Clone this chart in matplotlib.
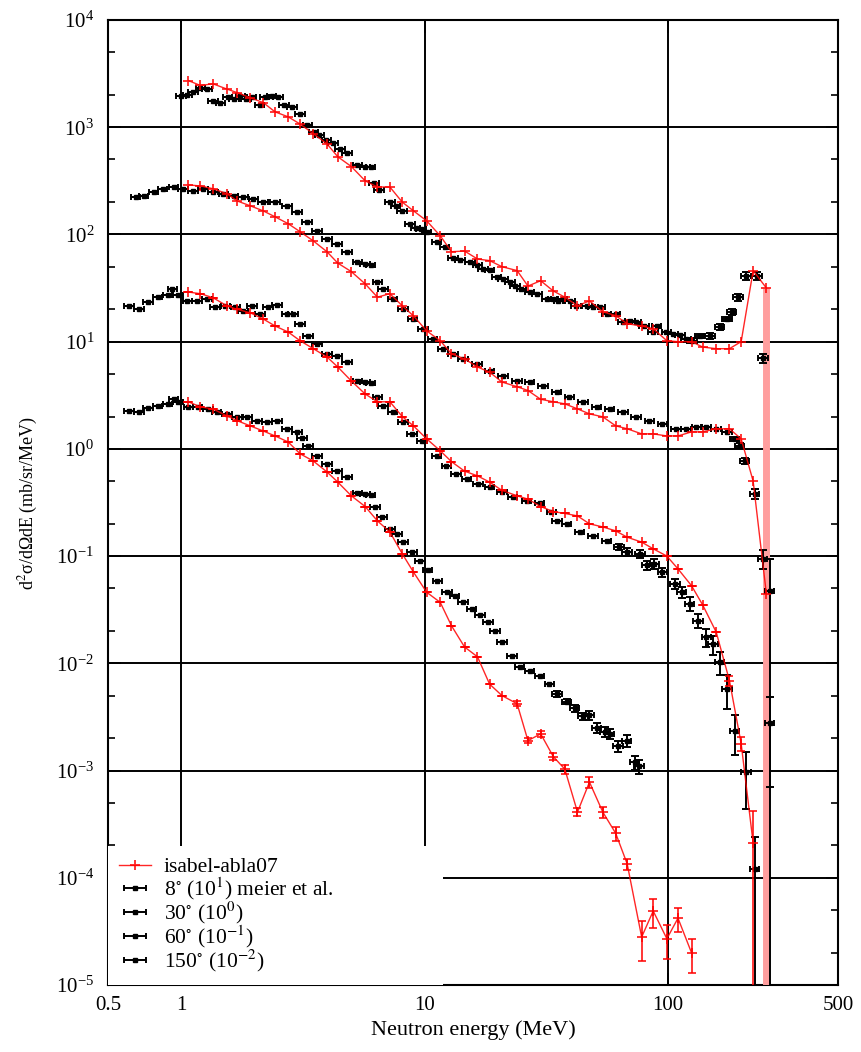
import numpy as np
import matplotlib
matplotlib.use("Agg")
import matplotlib.pyplot as plt
from matplotlib import ticker

plt.rcParams['font.family'] = ['Liberation Serif', 'DejaVu Serif']
plt.rcParams['mathtext.fontset'] = 'stix'

# Model energies (isabel-abla07), common binning
E_model = [1.07, 1.2, 1.35, 1.54, 1.70, 1.92, 2.17, 2.43, 2.75, 3.08, 3.49, 3.97, 4.4, 5.0,
           5.7, 6.4, 7.2, 8.1, 9.0, 10.2, 11.6, 12.9, 14.6, 16.5, 18.5, 20.8, 24, 26.6, 30,
           33.8, 37.7, 42.5, 47.6, 54, 61, 68, 78, 87, 99, 110, 125, 139, 158, 179, 200, 224, 254]

# plotted (already scaled) model values
model_8 = [2720, 2450, 2540, 2270, 2100, 1880, 1700, 1390, 1250, 1070, 870, 700, 530, 430,
           316, 277, 277, 200, 166, 134, 97, 69, 70, 59, 57, 50, 46, 33, 37,
           29.7, 26, 21.6, 24, 19, 17.5, 14.7, 14, 13.2, 10.2, 10, 10, 8.9, 8.6, 8.6, 10, 46, 31.6]
model_30 = [290, 283, 267, 240, 205, 185, 166, 146, 126, 106, 87, 69, 54, 45,
            34.6, 26, 28, 21.6, 17.4, 12.6, 10.2, 7.7, 6.9, 5.8, 5.2, 4.2, 3.8, 3.5, 2.9,
            2.75, 2.63, 2.36, 2.12, 1.99, 1.64, 1.54, 1.38, 1.38, 1.32, 1.32, 1.44, 1.44, 1.54, 1.54,
            1.24, 0.5, 0.044]
model_60 = [29, 28, 25.7, 21.6, 20, 18.6, 16.3, 14, 12.3, 10.2, 8.6, 7.2, 5.8, 4.3,
            3.25, 2.75, 2.75, 2.0, 1.64, 1.24, 0.96, 0.76, 0.62, 0.56, 0.49, 0.41, 0.365, 0.34, 0.29,
            0.26, 0.25, 0.237, 0.20, 0.187, 0.172, 0.15, 0.135, 0.117, 0.1, 0.076, 0.053, 0.035,
            0.0195, 0.0069, 0.00178, 0.00021]
model_150 = [2.75, 2.46, 2.36, 2.03, 1.83, 1.64, 1.47, 1.32, 1.16, 0.9, 0.77, 0.61, 0.49, 0.365,
             0.29, 0.213, 0.168, 0.105, 0.071, 0.046, 0.037, 0.0224, 0.0142, 0.0115, 0.0064, 0.005,
             0.0042, 0.0019, 0.0022, 0.00135, 0.00103, 0.00041, 0.00078, 0.00041, 0.00026, 0.000135,
             0.000028, 0.000049, 0.000027, 0.000042, 0.000020]
# relative statistical errors of the model, tail only
model_60_err = [0.1, 0.15, 0.9999]
model_150_err = [0.05, 0.05, 0.06, 0.08, 0.1, 0.09, 0.12, 0.12, 0.15, 0.12, 0.4, 0.3, 0.35, 0.25, 0.35]

# Meier et al. data (plotted, already scaled)
E_8 = [1.0, 1.06, 1.12, 1.2, 1.28, 1.35, 1.45, 1.55, 1.65, 1.75, 1.85, 1.95, 2.1, 2.2, 2.35, 2.5,
       2.65, 2.85, 3.08, 3.3, 3.5, 3.7, 3.95, 4.2, 4.5, 4.8, 5.3, 5.7, 6.0, 6.2, 6.5, 7.2, 7.6, 8.1,
       8.7, 9.2, 9.7, 10.2, 11.2, 12.1, 13.1, 14.0, 15.4, 16.5, 17.4, 18.5, 19.8, 21, 22.5, 23.5,
       25, 27, 29, 31.7, 33.6, 35.5, 37, 39.6, 42, 46.5, 49.3, 52.6, 56, 61, 65.5, 70, 74, 80, 87,
       90, 98.6, 105, 112, 119, 126, 135, 149, 163, 175, 183, 194, 210, 232, 246]
exp_8 = [1950, 2000, 2150, 2300, 2250, 1750, 1700, 1900, 1850, 1950, 1850, 1900, 1600, 1900, 1950,
         1900, 1600, 1550, 1330, 1050, 900, 850, 760, 720, 620, 580, 440, 430, 430, 300, 260, 200,
         185, 165, 125, 115, 112, 105, 85, 77, 60, 58, 55, 52, 48, 47, 40, 38, 36, 33, 31, 29, 28,
         25, 25, 24, 25, 24, 21.6, 21.5, 21, 21, 18.2, 18, 15.3, 15.5, 15.3, 14, 12.3, 14, 12.3,
         11.8, 11.5, 10.5, 10.2, 11.3, 11.3, 13.7, 16.3, 19, 26, 41, 41, 7]
exp_8_err = [0.05, 0.05, 0.06, 0.06, 0.05, 0.06, 0.08, 0.08, 0.08, 0.1]

E_30 = [0.65, 0.70, 0.77, 0.84, 0.93, 1.02, 1.12, 1.23, 1.35, 1.49, 1.64, 1.80, 1.98, 2.17, 2.43,
        2.72, 2.99, 3.29, 3.61, 3.97, 4.37, 4.80, 5.3, 5.7, 6.0, 6.4, 6.75, 7.4, 8.15, 8.95, 9.85,
        10.8, 11.9, 13.1, 14.4, 16.4, 18.5, 21, 24, 27, 30.7, 34.9, 39.4, 44.8, 51, 57.6, 65.5, 74,
        84, 95, 108, 119, 131, 144, 158, 175, 188, 197, 207, 227, 245, 262]
exp_30 = [224, 230, 250, 263, 278, 263, 255, 263, 250, 240, 230, 224, 215, 200, 200, 185, 163, 131,
          108, 91, 82, 69, 55, 53, 52, 36, 31, 25, 20, 16.3, 13.2, 10.6, 8.6, 7.7, 6.9, 6.2, 5.3,
          4.8, 4.3, 4.2, 3.9, 3.4, 3.05, 2.75, 2.46, 2.36, 2.2, 2.0, 1.83, 1.71, 1.54, 1.54, 1.6,
          1.6, 1.54, 1.44, 1.24, 1.07, 0.77, 0.38, 0.094, 0.047]
exp_30_err = [0.05, 0.05, 0.06, 0.1, 0.2, 0.9999]

E_60 = [0.61, 0.67, 0.73, 0.80, 0.88, 0.92, 0.97, 1.06, 1.16, 1.28, 1.38, 1.52, 1.67, 1.80, 1.96,
        2.11, 2.27, 2.48, 2.72, 2.88, 3.08, 3.33, 3.61, 3.97, 4.37, 4.80, 5.3, 5.7, 6.0, 6.4, 6.75,
        7.4, 8.15, 8.9, 9.75, 11.2, 12.3, 13.5, 14.9, 16.6, 18.5, 20.8, 23, 26.3, 29.7, 33.2, 35,
        38.4, 43.4, 49.2, 56, 63, 68, 77, 82, 88, 95, 107, 114, 123, 133, 144, 153, 163, 175, 188,
        210, 227, 262]
exp_60 = [21.6, 20, 23.5, 26, 27, 31, 27, 24, 24, 25, 21, 21.6, 21, 19.4, 21.6, 18.2, 21, 22, 18.2,
          18, 14.7, 11.3, 9.5, 7.7, 7.4, 6.5, 4.3, 4.2, 4.1, 3.05, 2.5, 2.2, 1.78, 1.38, 1.19, 0.86,
          0.69, 0.585, 0.525, 0.47, 0.44, 0.40, 0.355, 0.33, 0.31, 0.26, 0.213, 0.20, 0.168, 0.155,
          0.138, 0.122, 0.11, 0.105, 0.082, 0.085, 0.071, 0.055, 0.046, 0.036, 0.025, 0.0176,
          0.015, 0.0103, 0.0058, 0.00235, 0.00097, 0.00012, 0.0028]
exp_60_err = [0.06, 0.08, 0.08, 0.1, 0.1, 0.1, 0.1, 0.12, 0.15, 0.15, 0.2, 0.2, 0.25, 0.35, 0.4,
              0.55, 0.9999, 0.75]

E_150 = [0.61, 0.67, 0.73, 0.80, 0.88, 0.93, 0.97, 1.07, 1.17, 1.29, 1.40, 1.54, 1.70, 1.87, 2.05,
         2.25, 2.48, 2.72, 2.99, 3.14, 3.33, 3.61, 3.97, 4.37, 4.80, 5.3, 5.7, 6.0, 6.25, 6.7, 7.2,
         7.7, 8.15, 8.9, 9.6, 10.3, 11.3, 12.4, 13.3, 14.4, 15.6, 16.9, 18.2, 19.5, 20.8, 22.9,
         24.6, 27, 29.7, 32.6, 35, 38.4, 41.4, 44.8, 47.6, 51, 55, 57.6, 62.5, 67.6, 73, 76]
exp_150 = [2.26, 2.2, 2.4, 2.5, 2.6, 2.9, 2.75, 2.46, 2.46, 2.36, 2.2, 2.12, 2.0, 2.0, 1.83, 1.79,
           1.83, 1.54, 1.44, 1.27, 1.07, 0.86, 0.72, 0.62, 0.55, 0.39, 0.38, 0.37, 0.29, 0.23, 0.18,
           0.16, 0.135, 0.11, 0.09, 0.074, 0.059, 0.046, 0.042, 0.037, 0.032, 0.028, 0.0245, 0.020,
           0.0159, 0.0117, 0.0093, 0.0085, 0.0076, 0.0064, 0.0052, 0.0044, 0.0038, 0.0032, 0.0033,
           0.0025, 0.0023, 0.0022, 0.0017, 0.0019, 0.0012, 0.0011]
exp_150_err = [0.06, 0.06, 0.08, 0.08, 0.1, 0.1, 0.1, 0.1, 0.12, 0.12, 0.15, 0.15]

labels = ["isabel-abla07",
          r"8$^{\circ}$ (10$^{1}$) meier et al.",
          r"30$^{\circ}$ (10$^{0}$)",
          r"60$^{\circ}$ (10$^{-1}$)",
          r"150$^{\circ}$ (10$^{-2}$)"]

x_ticks = [0.5, 1, 10, 100, 500]
x_ticklabels = ['0.5', '1', '10', '100', '500']
y_ticks = [1e-5, 1e-4, 1e-3, 1e-2, 1e-1, 1e0, 1e1, 1e2, 1e3, 1e4]

BIN_HALF = 0.045  # half bin width, relative


def tail_err(vals, tail):
    e = np.zeros(len(vals))
    e[len(vals) - len(tail):] = tail
    return e * np.array(vals)


fig = plt.figure(figsize=(8.61, 10.52), dpi=100)
ax = fig.add_axes([0.1254, 0.0637, 0.8479, 0.9173])
ax.set_xscale('log')
ax.set_yscale('log')
ax.set_xlim(0.5, 500)
ax.set_ylim(1e-5, 1e4)

# pink error band of the last 8 deg model point
ax.errorbar([E_model[-1]], [model_8[-1]], yerr=[[model_8[-1] * 0.9999999], [0]],
            fmt='none', ecolor=(1, 0.62, 0.62), elinewidth=5, zorder=3)

# experimental data: horizontal bin bars (legend) + vertical error bars
exp_sets = [(E_8, exp_8, exp_8_err), (E_30, exp_30, exp_30_err),
            (E_60, exp_60, exp_60_err), (E_150, exp_150, exp_150_err)]
exp_handles = []
for E, v, err in exp_sets:
    E = np.array(E)
    h = ax.errorbar(E, v, xerr=E * BIN_HALF, fmt='s', ms=3.2,
                    color='black', ecolor='black', elinewidth=1.4, capsize=2.5,
                    capthick=1.4, zorder=4)
    ax.errorbar(E, v, yerr=tail_err(v, err), fmt='none', ecolor='black',
                elinewidth=1.4, capsize=3, capthick=1.4, zorder=4)
    exp_handles.append(h)

# model curves
red = '#ff0000'
model_sets = [(model_8, None), (model_30, None), (model_60, model_60_err), (model_150, model_150_err)]
model_handles = []
for v, err in model_sets:
    E = E_model[:len(v)]
    yerr = tail_err(v, err) if err is not None else None
    h = ax.errorbar(E, v, yerr=yerr, fmt='-+', color=red, ecolor=red, lw=1.0, ms=7, mew=1.3,
                    elinewidth=1.3, capsize=3, capthick=1.3, alpha=0.85, zorder=5)
    model_handles.append(h)

# axes style
ax.xaxis.set_major_locator(ticker.FixedLocator(x_ticks))
ax.xaxis.set_major_formatter(ticker.FixedFormatter(x_ticklabels))
ax.xaxis.set_minor_locator(ticker.NullLocator())
ax.yaxis.set_major_locator(ticker.FixedLocator(y_ticks))
ax.yaxis.set_major_formatter(ticker.LogFormatterMathtext())
ax.yaxis.set_minor_locator(ticker.FixedLocator(
    [m * t for t in y_ticks[:-1] for m in (2, 5)]))
ax.yaxis.set_minor_formatter(ticker.NullFormatter())
ax.tick_params(which='both', direction='in', top=True, right=True, width=1.2)
ax.tick_params(which='major', length=9)
ax.tick_params(which='minor', length=5)
ax.tick_params(axis='x', labelsize=15, pad=8)
ax.tick_params(axis='y', labelsize=15, pad=10)
ax.grid(True, which='major', color='black', lw=1.4)
for s in ax.spines.values():
    s.set_linewidth(1.5)

ax.set_xlabel("Neutron energy (MeV)", fontsize=16)
ax.xaxis.set_label_coords(0.5, -0.037)
ax.set_ylabel(r"d$^2$σ/dΩdE (mb/sr/MeV)", fontsize=13)
ax.yaxis.set_label_coords(-0.093, 0.5)

leg = ax.legend([model_handles[0]] + exp_handles, labels, loc='lower left',
                bbox_to_anchor=(0.0, 0.0, 0.459, 0.14), mode='expand',
                fontsize=15.5, frameon=True, fancybox=False, framealpha=1,
                borderaxespad=0.0, handlelength=1.5, labelspacing=-0.1,
                handletextpad=0.6, borderpad=0.5)
leg.get_frame().set_edgecolor('white')
leg.get_frame().set_linewidth(0)

fig.savefig("out.png", dpi=100)
